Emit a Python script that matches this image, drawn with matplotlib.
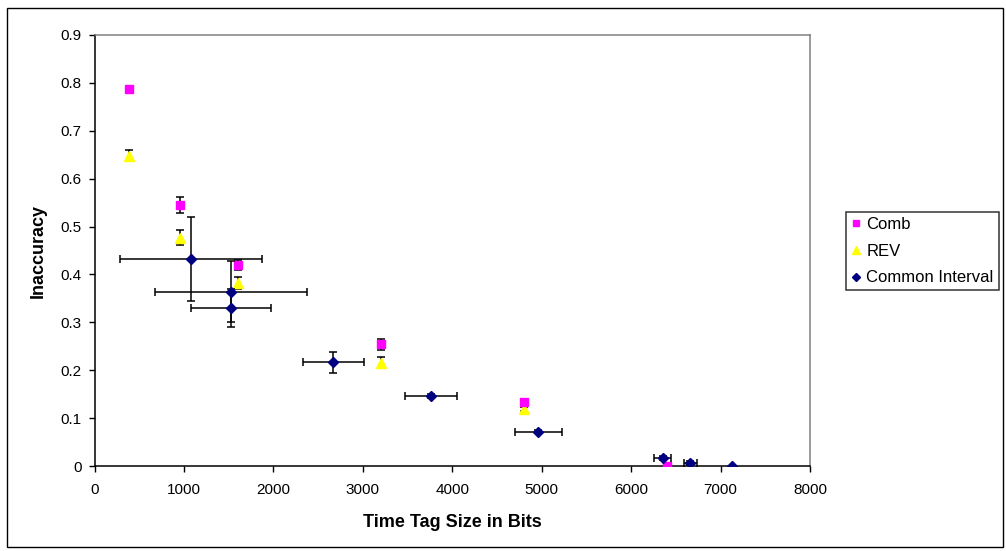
import matplotlib
matplotlib.use("Agg")
import matplotlib.pyplot as plt
from matplotlib.patches import Rectangle

plt.rcParams['font.family'] = ['Liberation Sans', 'DejaVu Sans']

# Data
sizes_comb = [384, 960, 1600, 3200, 4800, 6400]
comb = [0.787, 0.545, 0.420, 0.254, 0.134, 0.0]
comb_err = [0.004, 0.016, 0.010, 0.012, 0.005, 0.0]

sizes_rev = [384, 960, 1600, 3200, 4800]
rev = [0.648, 0.477, 0.382, 0.216, 0.119]
rev_err = [0.011, 0.015, 0.013, 0.011, 0.005]

ci_x = [1080, 1525, 1525, 2671, 3764, 4964, 6351, 6661, 7127]
ci_y = [0.432, 0.364, 0.330, 0.217, 0.147, 0.072, 0.016, 0.007, 0.0]
ci_xerr = [790, 848, 450, 343, 290, 267, 100, 75, 0]
ci_yerr = [0.087, 0.064, 0.040, 0.022, 0.004, 0.003, 0.004, 0.004, 0.0]

xticks = [0, 1000, 2000, 3000, 4000, 5000, 6000, 7000, 8000]
yticks = [0, 0.1, 0.2, 0.3, 0.4, 0.5, 0.6, 0.7, 0.8, 0.9]
ytick_labels = ['0', '0.1', '0.2', '0.3', '0.4', '0.5', '0.6', '0.7', '0.8', '0.9']

W, H = 1006, 551
fig = plt.figure(figsize=(W / 100, H / 100), dpi=100)
ax = fig.add_axes([94.5 / W, 1 - 466 / H, (810 - 94.5) / W, (466 - 35) / H])

eb_kw = dict(ecolor='black', elinewidth=1.1, capsize=3, capthick=1.1, linestyle='none')

ax.errorbar(sizes_rev, rev, yerr=rev_err, marker='^', markersize=7,
            markerfacecolor='#FFFF00', markeredgecolor='#FFFF00', label='REV',
            zorder=3, **eb_kw)
ax.errorbar(sizes_comb, comb, yerr=comb_err, marker='s', markersize=5.5,
            markerfacecolor='#FF00FF', markeredgecolor='#FF00FF', label='Comb',
            zorder=4, **eb_kw)
ax.errorbar(ci_x, ci_y, xerr=ci_xerr, yerr=ci_yerr, marker='D', markersize=5,
            markerfacecolor='#000080', markeredgecolor='#000080',
            label='Common Interval', zorder=5, **eb_kw)

ax.set_xlim(0, 8000)
ax.set_ylim(0, 0.9)
ax.set_xticks(xticks)
ax.set_xticklabels([str(t) for t in xticks])
ax.set_yticks(yticks)
ax.set_yticklabels(ytick_labels)
ax.tick_params(axis='both', direction='out', length=4.3, width=1, labelsize=11,
               colors='black')
ax.tick_params(axis='x', pad=8)
ax.tick_params(axis='y', pad=5)

for s in ['left', 'bottom']:
    ax.spines[s].set_color('black')
    ax.spines[s].set_linewidth(1.1)
for s in ['top', 'right']:
    ax.spines[s].set_color('#808080')
    ax.spines[s].set_linewidth(1.1)

ax.set_xlabel('Time Tag Size in Bits', fontsize=13, fontweight='bold', labelpad=12)
ax.set_ylabel('Inaccuracy', fontsize=13, fontweight='bold', labelpad=10)

handles, labels = ax.get_legend_handles_labels()
order = [labels.index('Comb'), labels.index('REV'), labels.index('Common Interval')]
h2 = [handles[i][0] for i in order]
l2 = [labels[i] for i in order]
leg = fig.legend(h2, l2, loc='upper left', bbox_to_anchor=(846 / W, 1 - 212 / H),
                 frameon=True, fancybox=False, edgecolor='black', fontsize=12,
                 handlelength=0.6, handletextpad=0.32, labelspacing=0.7,
                 borderpad=0.3, borderaxespad=0, markerscale=0.85)
leg.get_frame().set_linewidth(1.1)

fig.patches.append(Rectangle((7 / W, 1 - 547 / H), (1003 - 7) / W, (547 - 8) / H,
                             transform=fig.transFigure, fill=False,
                             edgecolor='black', linewidth=1.0))

fig.savefig('out.png', dpi=100)
